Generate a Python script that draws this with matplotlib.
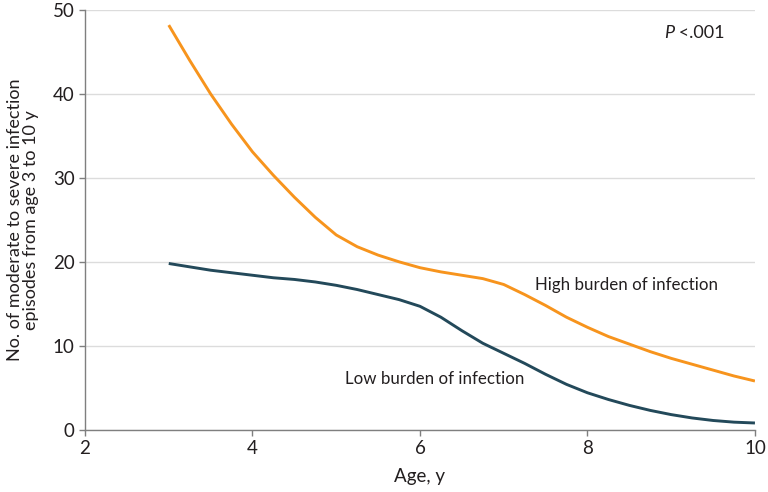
import matplotlib
matplotlib.use('Agg')
import matplotlib.pyplot as plt

# ages (y) and fitted episode counts
age = [3.0, 3.25, 3.5, 3.75, 4.0, 4.25, 4.5, 4.75, 5.0, 5.25, 5.5, 5.75, 6.0, 6.25, 6.5,
       6.75, 7.0, 7.25, 7.5, 7.75, 8.0, 8.25, 8.5, 8.75, 9.0, 9.25, 9.5, 9.75, 10.0]
high_burden = [48.2, 44.0, 40.0, 36.4, 33.1, 30.3, 27.7, 25.3, 23.2, 21.8, 20.8, 20.0, 19.3, 18.8, 18.4,
               18.0, 17.3, 16.1, 14.8, 13.4, 12.2, 11.1, 10.2, 9.3, 8.5, 7.8, 7.1, 6.4, 5.8]
low_burden = [19.8, 19.4, 19.0, 18.7, 18.4, 18.1, 17.9, 17.6, 17.2, 16.7, 16.1, 15.5, 14.7, 13.4, 11.8,
              10.3, 9.1, 7.9, 6.6, 5.4, 4.4, 3.6, 2.9, 2.3, 1.8, 1.4, 1.1, 0.9, 0.8]
x_ticks = [2, 4, 6, 8, 10]
y_ticks = [0, 10, 20, 30, 40, 50]

plt.rcParams['font.family'] = ['Lato', 'DejaVu Sans']

fig = plt.figure(figsize=(7.68, 4.92), dpi=100)
ax = fig.add_axes([0.1107, 0.1266, 0.8723, 0.8531])

ax.plot(age, high_burden, color='#F7941D', lw=2.1, solid_capstyle='butt')
ax.plot(age, low_burden, color='#23495A', lw=2.1, solid_capstyle='butt')

ax.set_xlim(2, 10)
ax.set_ylim(0, 50)
ax.set_xticks(x_ticks)
ax.set_yticks(y_ticks)
ax.yaxis.grid(True, color='#DCDCDC', lw=1.0)
ax.set_axisbelow(True)

for side in ['top', 'right']:
    ax.spines[side].set_visible(False)
for side in ['left', 'bottom']:
    ax.spines[side].set_color('#7F7F7F')
    ax.spines[side].set_linewidth(1.0)
ax.tick_params(axis='both', colors='#7F7F7F', labelcolor='#231F20', labelsize=13.5,
               length=4, width=1.0, direction='out')

ax.set_xlabel('Age, y', fontsize=13.5, color='#231F20', labelpad=8)
ax.set_ylabel('No. of moderate to severe infection\nepisodes from age 3 to 10 y',
              fontsize=13, color='#231F20', labelpad=10, linespacing=1.0)

# P value: italic P followed by the upright rest
p_txt = ax.text(9.64, 47.2, ' <.001', fontsize=13, color='#231F20', ha='right', va='center')
fig.canvas.draw()
bb = p_txt.get_window_extent().transformed(ax.transData.inverted())
ax.text(bb.x0, 47.2, 'P', fontsize=13, color='#231F20', ha='right', va='center', style='italic')

ax.text(7.37, 17.2, 'High burden of infection', fontsize=12.2, color='#231F20', ha='left', va='center')
ax.text(5.11, 6.0, 'Low burden of infection', fontsize=12.2, color='#231F20', ha='left', va='center')

fig.savefig('out.png', dpi=100)
